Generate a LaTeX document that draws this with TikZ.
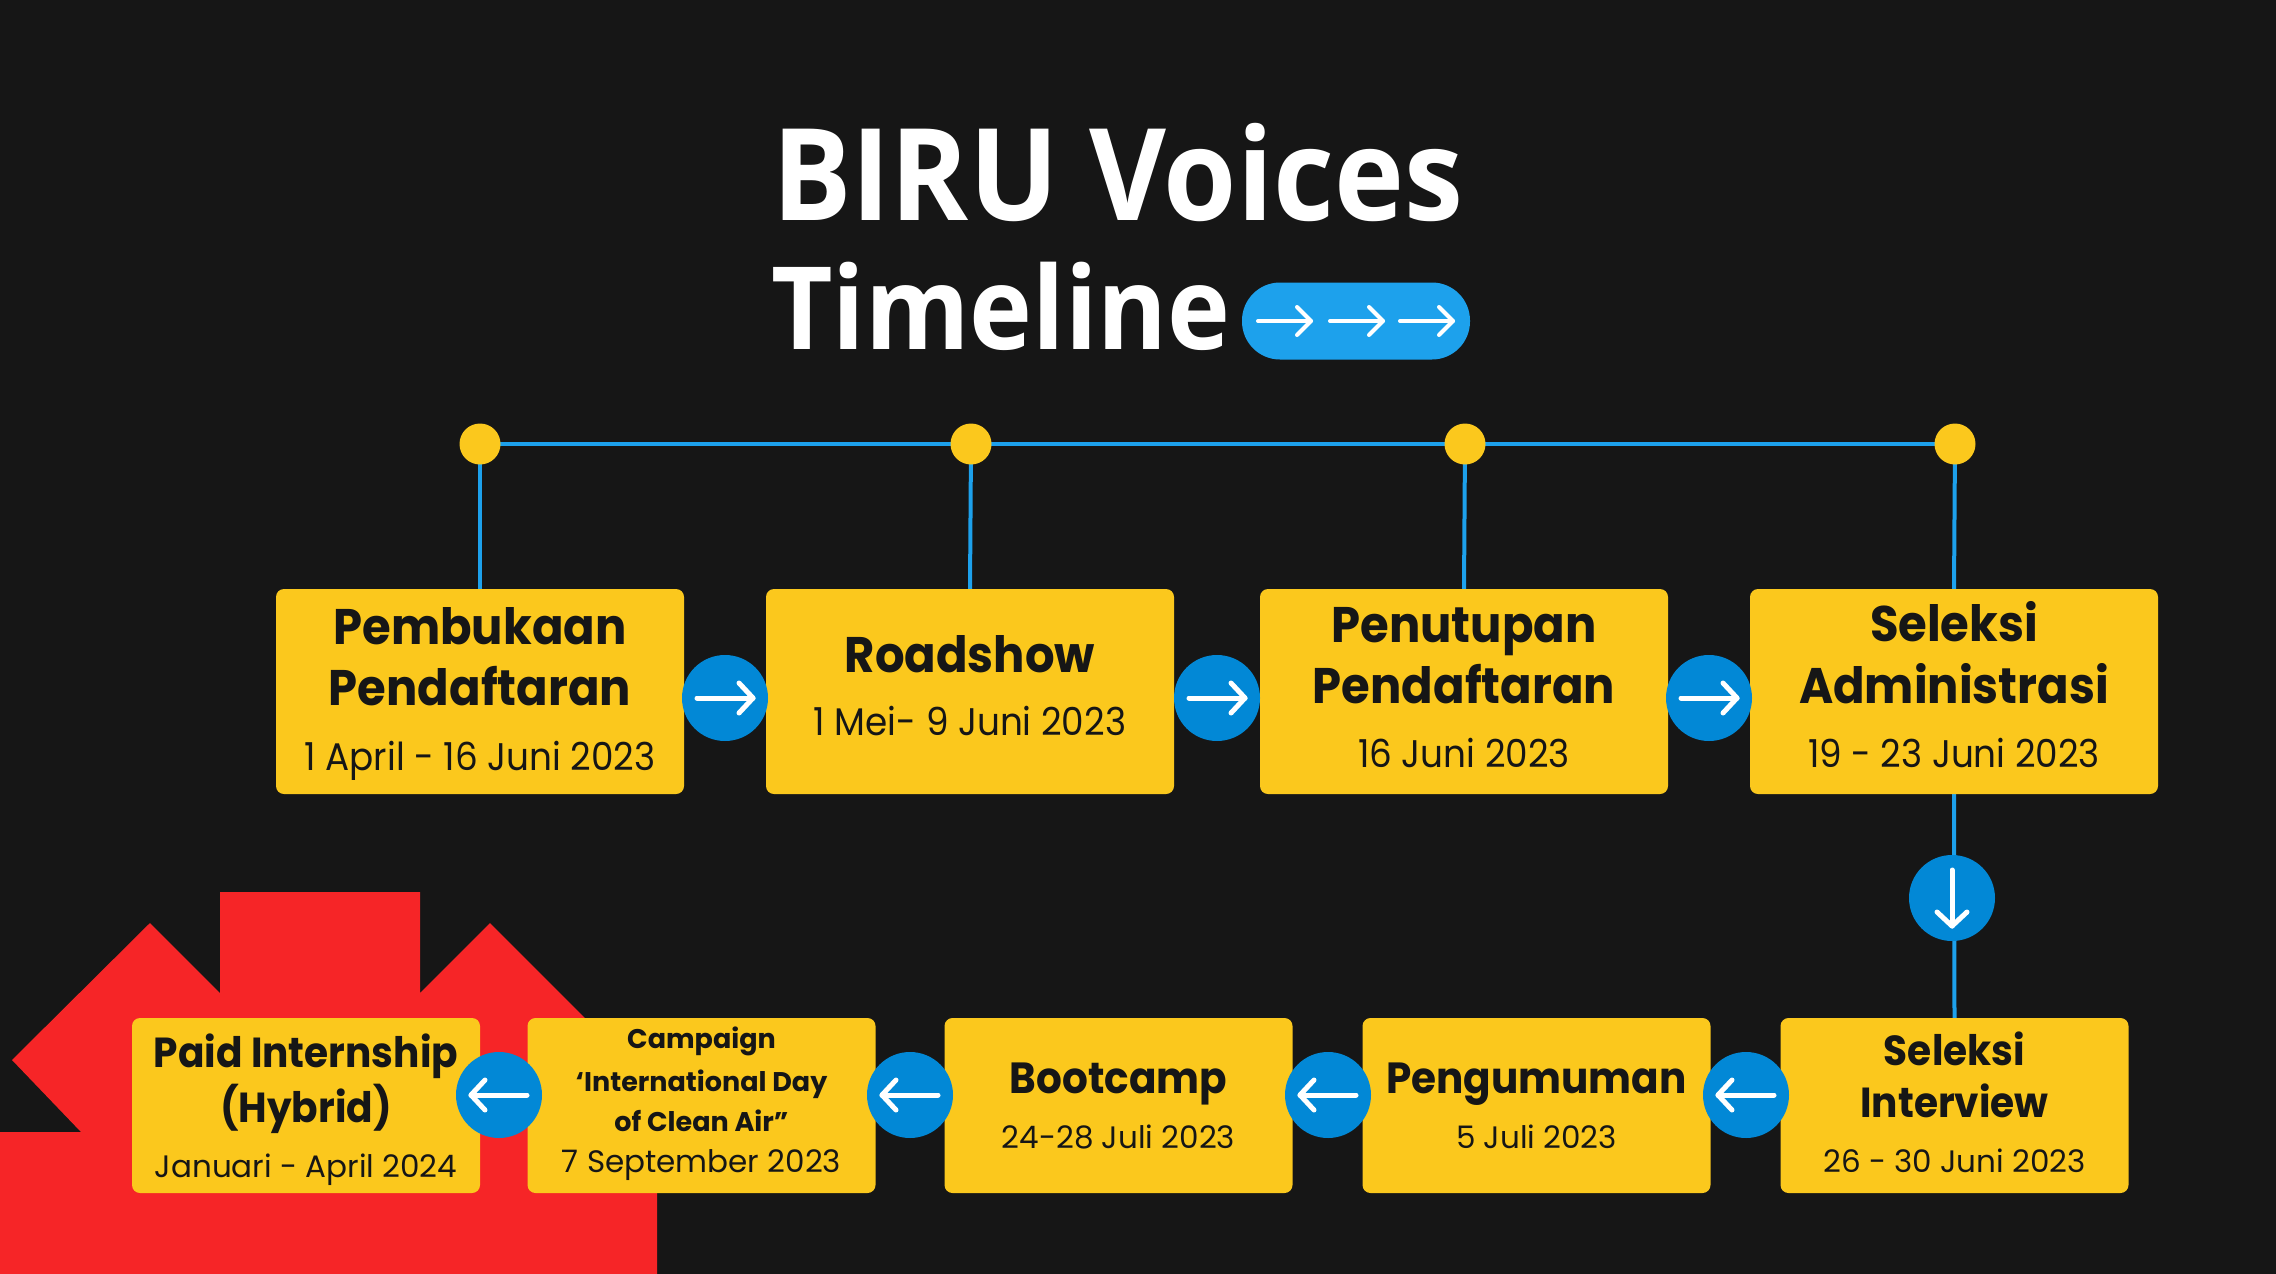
\documentclass[tikz,border=0pt]{standalone}
\usepackage{fontspec}
\setmainfont{Poppins}
\newfontfamily\condfont[FakeStretch=0.93]{Poppins}
\newfontfamily\titlefont[FakeStretch=0.925]{Open Sans}
\usetikzlibrary{backgrounds}
\definecolor{bg}{HTML}{161616}
\definecolor{redshape}{HTML}{F62527}
\definecolor{boxyellow}{HTML}{FBC81D}
\definecolor{circblue}{HTML}{0288D6}
\definecolor{wireblue}{HTML}{1DA1EC}
\definecolor{ink}{HTML}{161616}
\tikzset{
  box/.style={fill=boxyellow, rounded corners=8pt, inner sep=0pt},
  topbox/.style={box, minimum width=408pt, minimum height=205pt},
  botbox/.style={box, minimum width=348pt, minimum height=175pt},
  dot/.style={circle, fill=boxyellow, minimum size=41pt, inner sep=0pt},
  circ/.style={circle, fill=circblue, minimum size=86pt, inner sep=0pt},
  wire/.style={draw=wireblue, line width=4pt},
  arw/.style={draw=white, line width=5pt, line cap=round, line join=round},
  parw/.style={draw=white, line width=4pt, line cap=round, line join=round},
  txt/.style={anchor=base, inner sep=0pt, text=ink},
  ttlA/.style={txt, font=\condfont\fontsize{50}{60}\selectfont\bfseries},
  dateA/.style={txt, font=\condfont\fontsize{38.5}{46}\selectfont},
  ttlB/.style={txt, font=\condfont\fontsize{42}{50}\selectfont\bfseries},
  ttlBw/.style={txt, font=\condfont\fontsize{43.6}{50}\selectfont\bfseries},
  dateB/.style={txt, font=\fontsize{31}{38}\selectfont},
  ttlC/.style={txt, font=\fontsize{27}{32}\selectfont\bfseries},
  pill/.style={fill=wireblue, rounded corners=38pt, minimum width=228pt, minimum height=77pt, inner sep=0pt},
  head/.style={anchor=base west, inner sep=0pt, text=white, font=\titlefont\bfseries\fontsize{128}{140}\selectfont},
}
\newcommand\arrowright[1]{%
  \draw[arw] ([xshift=-28pt]#1.center) -- ([xshift=28pt]#1.center);
  \draw[arw] ([xshift=14pt,yshift=15pt]#1.center) -- ([xshift=28pt]#1.center) -- ([xshift=14pt,yshift=-15pt]#1.center);}
\newcommand\arrowleft[1]{%
  \draw[arw] ([xshift=28pt]#1.center) -- ([xshift=-28pt]#1.center);
  \draw[arw] ([xshift=-14pt,yshift=15pt]#1.center) -- ([xshift=-28pt]#1.center) -- ([xshift=-14pt,yshift=-15pt]#1.center);}
\newcommand\arrowdown[1]{%
  \draw[arw] ([yshift=28pt]#1.center) -- ([yshift=-28pt]#1.center);
  \draw[arw] ([xshift=-15pt,yshift=-14pt]#1.center) -- ([yshift=-28pt]#1.center) -- ([xshift=15pt,yshift=-14pt]#1.center);}
\begin{document}
\begin{tikzpicture}[x=1pt,y=-1pt]
\useasboundingbox (0,0) rectangle (2276,1274);
\begin{scope}[on background layer]
  \fill[bg] (0,0) rectangle (2276,1274);
  \fill[redshape] (0,1132) -- (81,1132) -- (12,1060) -- (150,923) -- (220,993) -- (220,892)
     -- (420,892) -- (420,993) -- (490,923) -- (657,1090) -- (657,1274) -- (0,1274) -- cycle;
\end{scope}

% title
\node[head] (h1) at (772,220) {BIRU Voices};
\node[head, font=\titlefont\bfseries\fontsize{115}{126}\selectfont] (h2) at (771,349) {Timeline};
\node[pill] (pill) at (1356,321) {};
\foreach \x in {1285,1357,1427}{
  \draw[parw] (\x-27,321) -- (\x+26,321);
  \draw[parw] (\x+12,307) -- (\x+26,321) -- (\x+12,335);
}

% dots
\node[dot] (d1) at (480,444) {};
\node[dot] (d2) at (971,444) {};
\node[dot] (d3) at (1465,444) {};
\node[dot] (d4) at (1955,444) {};

% top boxes
\node[topbox] (b1) at (480,691.5) {};
\node[topbox] (b2) at (970,691.5) {};
\node[topbox] (b3) at (1464,691.5) {};
\node[topbox] (b4) at (1954,691.5) {};

\node[ttlA] (t1a) at (480,644) {Pembukaan};
\node[ttlA] (t1b) at (480,705) {Pendaftaran};
\node[dateA] (t1c) at (480,770) {1 April - 16 Juni 2023};
\node[ttlA] (t2a) at (970,672) {Roadshow};
\node[dateA] (t2c) at (970,735) {1 Mei- 9 Juni 2023};
\node[ttlA] (t3a) at (1464,642) {Penutupan};
\node[ttlA] (t3b) at (1464,703) {Pendaftaran};
\node[dateA] (t3c) at (1464,767) {16 Juni 2023};
\node[ttlA] (t4a) at (1954,641) {Seleksi};
\node[ttlA] (t4b) at (1954,703) {Administrasi};
\node[dateA] (t4c) at (1954,767) {19 - 23 Juni 2023};

% bottom boxes
\node[botbox] (bA) at (306,1105.5) {};
\node[botbox] (bB) at (701.5,1105.5) {};
\node[botbox] (bC) at (1118.5,1105.5) {};
\node[botbox] (bD) at (1536.5,1105.5) {};
\node[botbox] (bE) at (1954.5,1105.5) {};

\node[ttlB] (tAa) at (306,1067) {Paid Internship};
\node[ttlB] (tAb) at (306,1122) {(Hybrid)};
\node[dateB] (tAc) at (306,1177) {Januari - April 2024};
\node[ttlC] (tBa) at (701.5,1048) {Campaign};
\node[ttlC] (tBb) at (701.5,1091) {‘International Day};
\node[ttlC] (tBc) at (701.5,1131) {of Clean Air”};
\node[dateB] (tBd) at (701.5,1172) {7 September 2023};
\node[ttlBw] (tCa) at (1118.5,1093) {Bootcamp};
\node[dateB] (tCc) at (1118.5,1148) {24-28 Juli 2023};
\node[ttlBw] (tDa) at (1536.5,1093) {Pengumuman};
\node[dateB] (tDc) at (1536.5,1148) {5 Juli 2023};
\node[ttlB] (tEa) at (1954.5,1065) {Seleksi};
\node[ttlB] (tEb) at (1954.5,1117) {Interview};
\node[dateB] (tEc) at (1954.5,1172) {26 - 30 Juni 2023};

% connectors (behind)
\begin{scope}[on background layer]
  \draw[wire] (d1.center) -- (d4.center);
  \draw[wire] (d1.center) -- (b1.north);
  \draw[wire] (d2.center) -- (b2.north);
  \draw[wire] (d3.center) -- (b3.north);
  \draw[wire] (d4.center) -- (b4.north);
  \draw[wire] (b4.south) -- (bE.north);
\end{scope}

% arrow circles
\node[circ] (c1) at (725,698) {};
\node[circ] (c2) at (1217,698) {};
\node[circ] (c3) at (1709,698) {};
\node[circ] (c4) at (1952,898) {};
\node[circ] (c5) at (1746,1095) {};
\node[circ] (c6) at (1328,1095) {};
\node[circ] (c7) at (910,1095) {};
\node[circ] (c8) at (499,1095) {};
\arrowright{c1}
\arrowright{c2}
\arrowright{c3}
\arrowdown{c4}
\arrowleft{c5}
\arrowleft{c6}
\arrowleft{c7}
\arrowleft{c8}
\end{tikzpicture}
\end{document}
